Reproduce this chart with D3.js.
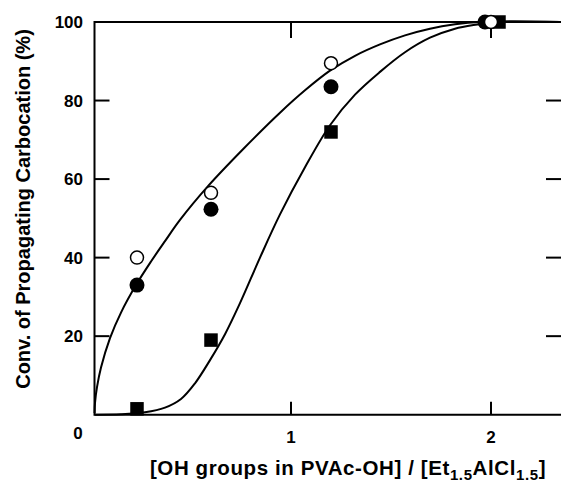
<!DOCTYPE html>
<html>
<head>
<meta charset="utf-8">
<script src="https://cdn.jsdelivr.net/npm/d3@7"></script>
<style>
  body { margin: 0; background: #fff; }
  text { font-family: "Liberation Sans", Arial, sans-serif; font-weight: bold; fill: #000; }
</style>
</head>
<body>
<svg id="chart" width="561" height="487"></svg>
<script>
// measured points
var ratio = [0.23, 0.6, 1.2];
var openConv = [40, 56.5, 89.5];
var filledConv = [33, 52.3, 83.5];
var squareConv = [1.5, 19, 72];
// points sitting on the 100 % line
var topX = { open: 2.0, filled: 1.97, square: 2.04 };

// fitted curves
var upperCurveX = [0.018, 0.02, 0.03, 0.05, 0.095, 0.15, 0.225, 0.3, 0.37, 0.445, 0.585, 0.76, 0.945, 1.07, 1.195, 1.32, 1.445, 1.57, 1.695, 1.82, 1.945, 2.35];
var upperCurveY = [0.4, 3, 7, 12, 19.5, 26, 33, 39, 44.2, 49.6, 58.2, 67.6, 76.9, 82.6, 87.6, 91.4, 94.3, 96.6, 98.3, 99.4, 100, 100];
var lowerCurveX = [0.018, 0.15, 0.27, 0.37, 0.45, 0.52, 0.595, 0.67, 0.745, 0.845, 0.945, 1.07, 1.195, 1.32, 1.445, 1.57, 1.695, 1.82, 1.945, 2.0, 2.35];
var lowerCurveY = [0, 0.1, 0.6, 1.8, 4.0, 8.0, 13.9, 20.5, 28.4, 40, 51, 63, 73.7, 81.5, 87.3, 92.3, 96.0, 98.3, 99.5, 100, 100];

var yTicks = [20, 40, 60, 80];
var xTicks = [1, 2];

var svg = d3.select('#chart');
var m = { left: 94.5, right: 561, top: 22, bottom: 414.7 };

var x = d3.scaleLinear().domain([0.0175, 2.35]).range([m.left, m.right]);
var y = d3.scaleLinear().domain([0, 100]).range([m.bottom, m.top]);

// frame: left, top, bottom
svg.append('path')
    .attr('d', 'M' + m.right + ',' + m.top + 'H' + m.left + 'V' + m.bottom + 'H' + m.right)
    .attr('fill', 'none').attr('stroke', '#000').attr('stroke-width', 2);

// inward ticks
svg.selectAll('line.yl').data(yTicks).enter().append('line')
    .attr('x1', m.left).attr('x2', m.left + 15)
    .attr('y1', y).attr('y2', y)
    .attr('stroke', '#000').attr('stroke-width', 2);
svg.selectAll('line.yr').data(yTicks).enter().append('line')
    .attr('x1', m.right - 15).attr('x2', m.right)
    .attr('y1', y).attr('y2', y)
    .attr('stroke', '#000').attr('stroke-width', 2);
svg.selectAll('line.xb').data(xTicks).enter().append('line')
    .attr('x1', x).attr('x2', x)
    .attr('y1', m.bottom).attr('y2', m.bottom - 13)
    .attr('stroke', '#000').attr('stroke-width', 2);
svg.selectAll('line.xt').data(xTicks).enter().append('line')
    .attr('x1', x).attr('x2', x)
    .attr('y1', m.top).attr('y2', m.top + 16)
    .attr('stroke', '#000').attr('stroke-width', 2);

// tick labels
svg.selectAll('text.yt').data(yTicks.concat([100])).enter().append('text')
    .attr('x', 83).attr('y', function(d) { return y(d) + 6; })
    .attr('text-anchor', 'end').attr('font-size', 17)
    .text(function(d) { return d; });
svg.append('text').attr('x', 78).attr('y', 439)
    .attr('text-anchor', 'middle').attr('font-size', 17).text('0');
svg.selectAll('text.xt').data(xTicks).enter().append('text')
    .attr('x', x).attr('y', 443)
    .attr('text-anchor', 'middle').attr('font-size', 17)
    .text(function(d) { return d; });

// axis titles
svg.append('text')
    .attr('transform', 'translate(30,209) rotate(-90)')
    .attr('text-anchor', 'middle').attr('font-size', 20)
    .text('Conv. of Propagating Carbocation (%)');

var xt = svg.append('text')
    .attr('x', 348).attr('y', 475)
    .attr('text-anchor', 'middle').attr('font-size', 20.5)
    .attr('letter-spacing', 0.6);
xt.append('tspan').text('[OH groups in PVAc-OH] / [Et');
xt.append('tspan').attr('font-size', 15).attr('dy', 5).text('1.5');
xt.append('tspan').attr('dy', -5).text('AlCl');
xt.append('tspan').attr('font-size', 15).attr('dy', 5).text('1.5');
xt.append('tspan').attr('dy', -5).text(']');

// curves
var line = d3.line()
    .x(function(d) { return x(d[0]); })
    .y(function(d) { return y(d[1]); })
    .curve(d3.curveCatmullRom.alpha(0.5));
svg.append('path').datum(d3.zip(upperCurveX, upperCurveY))
    .attr('d', line).attr('fill', 'none').attr('stroke', '#000').attr('stroke-width', 2);
svg.append('path').datum(d3.zip(lowerCurveX, lowerCurveY))
    .attr('d', line).attr('fill', 'none').attr('stroke', '#000').attr('stroke-width', 2);

// markers
var sq = 13.5;
svg.selectAll('rect.sq').data(d3.zip(ratio.concat([topX.square]), squareConv.concat([100])))
    .enter().append('rect')
    .attr('x', function(d) { return x(d[0]) - sq / 2; })
    .attr('y', function(d) { return y(d[1]) - sq / 2; })
    .attr('width', sq).attr('height', sq).attr('fill', '#000');
svg.selectAll('circle.f').data(d3.zip(ratio.concat([topX.filled]), filledConv.concat([100])))
    .enter().append('circle')
    .attr('cx', function(d) { return x(d[0]); })
    .attr('cy', function(d) { return y(d[1]); })
    .attr('r', 7.5).attr('fill', '#000');
svg.selectAll('circle.o').data(d3.zip(ratio.concat([topX.open]), openConv.concat([100])))
    .enter().append('circle')
    .attr('cx', function(d) { return x(d[0]); })
    .attr('cy', function(d) { return y(d[1]); })
    .attr('r', 6.5).attr('fill', '#fff').attr('stroke', '#000').attr('stroke-width', 1.5);
</script>
</body>
</html>
